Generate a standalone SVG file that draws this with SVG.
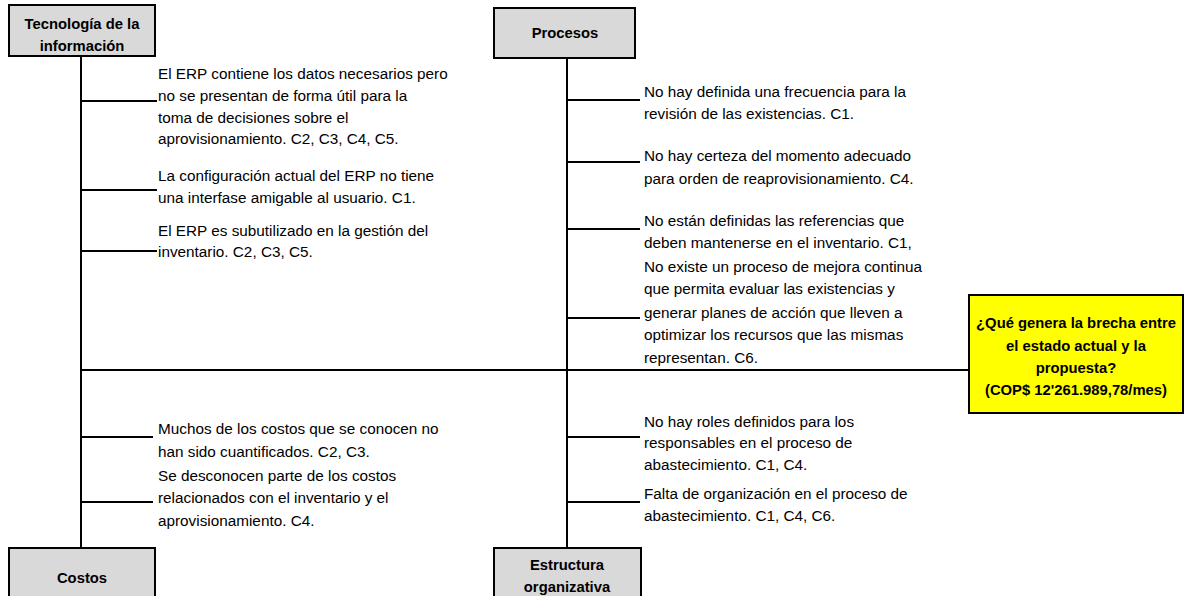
<svg xmlns="http://www.w3.org/2000/svg" width="1189" height="596" viewBox="0 0 1189 596">
<style>
.box{fill:#d9d9d9;stroke:#000;stroke-width:2}
.goal{fill:#ffff00;stroke:#000;stroke-width:2}
.ln{stroke:#000;stroke-width:2;fill:none}
.h{font-family:"Liberation Sans",Arial,sans-serif;font-size:14.8px;font-weight:bold;fill:#000;text-anchor:middle}
.t{font-family:"Liberation Sans",Arial,sans-serif;font-size:15.3px;fill:#000}
</style>
<rect width="1189" height="596" fill="#fff"/>
<g id="connectors">
<path class="ln" d="M81 56V548M567 58V548M81 370H969"/>
<path class="ln" d="M81 101H157M81 190H157M81 251H157"/>
<path class="ln" d="M567 100H640M567 162H640M567 229H640M567 318H640"/>
<path class="ln" d="M81 437H153M81 502H153"/>
<path class="ln" d="M567 437H640M567 502H640"/>
</g>
<g id="tecnologia">
<rect class="box" x="9" y="5" width="146" height="51"/>
<text class="h" x="82" y="29">Tecnología de la</text>
<text class="h" x="82" y="51">información</text>
</g>
<g id="procesos">
<rect class="box" x="494" y="8" width="141" height="50"/>
<text class="h" x="565" y="38">Procesos</text>
</g>
<g id="costos">
<rect class="box" x="9" y="548" width="146" height="52"/>
<text class="h" x="82" y="583">Costos</text>
</g>
<g id="estructura">
<rect class="box" x="494" y="548" width="147" height="52"/>
<text class="h" x="567" y="570">Estructura</text>
<text class="h" x="567" y="592">organizativa</text>
</g>
<g id="problema">
<rect class="goal" x="969" y="295" width="214" height="118"/>
<text class="h" x="1076" y="328">¿Qué genera la brecha entre</text>
<text class="h" x="1076" y="351">el estado actual y la</text>
<text class="h" x="1076" y="373">propuesta?</text>
<text class="h" x="1076" y="395">(COP$ 12'261.989,78/mes)</text>
</g>
<g id="causas-tecnologia">
<text class="t" x="158" y="79">El ERP contiene los datos necesarios pero</text>
<text class="t" x="158" y="101">no se presentan de forma útil para la</text>
<text class="t" x="158" y="123">toma de decisiones sobre el</text>
<text class="t" x="158" y="144">aprovisionamiento. C2, C3, C4, C5.</text>
<text class="t" x="158" y="181">La configuración actual del ERP no tiene</text>
<text class="t" x="158" y="203">una interfase amigable al usuario. C1.</text>
<text class="t" x="158" y="236">El ERP es subutilizado en la gestión del</text>
<text class="t" x="158" y="257">inventario. C2, C3, C5.</text>
</g>
<g id="causas-procesos">
<text class="t" x="644" y="97">No hay definida una frecuencia para la</text>
<text class="t" x="644" y="119">revisión de las existencias. C1.</text>
<text class="t" x="644" y="161">No hay certeza del momento adecuado</text>
<text class="t" x="644" y="184">para orden de reaprovisionamiento. C4.</text>
<text class="t" x="644" y="226">No están definidas las referencias que</text>
<text class="t" x="644" y="248">deben mantenerse en el inventario. C1,</text>
<text class="t" x="644" y="272">No existe un proceso de mejora continua</text>
<text class="t" x="644" y="294">que permita evaluar las existencias y</text>
<text class="t" x="644" y="318">generar planes de acción que lleven a</text>
<text class="t" x="644" y="340">optimizar los recursos que las mismas</text>
<text class="t" x="644" y="363">representan. C6.</text>
</g>
<g id="causas-costos">
<text class="t" x="158" y="434">Muchos de los costos que se conocen no</text>
<text class="t" x="158" y="457">han sido cuantificados. C2, C3.</text>
<text class="t" x="158" y="481">Se desconocen parte de los costos</text>
<text class="t" x="158" y="503">relacionados con el inventario y el</text>
<text class="t" x="158" y="526">aprovisionamiento. C4.</text>
</g>
<g id="causas-estructura">
<text class="t" x="644" y="427">No hay roles definidos para los</text>
<text class="t" x="644" y="448">responsables en el proceso de</text>
<text class="t" x="644" y="470">abastecimiento. C1, C4.</text>
<text class="t" x="644" y="499">Falta de organización en el proceso de</text>
<text class="t" x="644" y="521">abastecimiento. C1, C4, C6.</text>
</g>
</svg>
